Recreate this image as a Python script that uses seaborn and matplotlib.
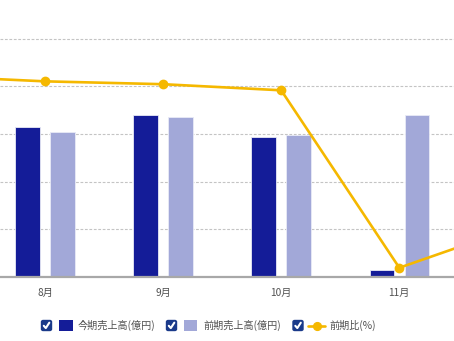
import matplotlib
matplotlib.use("Agg")
import matplotlib.pyplot as plt
import seaborn as sns
import pandas as pd
import numpy as np
from matplotlib.patches import Rectangle, FancyBboxPatch
from matplotlib.lines import Line2D

months = ["7月", "8月", "9月", "10月", "11月", "12月"]
current_sales = [np.nan, 157, 170, 147, 7, np.nan]   # 今期売上高(億円)
previous_sales = [np.nan, 152, 168, 149, 170, np.nan]  # 前期売上高(億円)
ratio = [105.5, 102.6, 101.1, 97.9, 4.7, 26.3]       # 前期比(%)

s1 = "今期売上高(億円)"
s2 = "前期売上高(億円)"
s3 = "前期比(%)"

DARK = "#141C98"
LIGHT = "#A2A8D8"
GOLD = "#F5B800"
TXT = "#505050"

sns.set_theme(style="white")
plt.rcParams["font.family"] = ["Noto Sans CJK JP", "DejaVu Sans"]

W, H = 454, 341
fig = plt.figure(figsize=(W / 100, H / 100), dpi=100)
base_px = 276.7
step_px = 47.6
ax = fig.add_axes([0, (H - base_px) / H, 1, base_px / H])

df = pd.DataFrame({
    "month": months * 2,
    "value": current_sales + previous_sales,
    "series": [s1] * len(months) + [s2] * len(months),
})
sns.barplot(data=df, x="month", y="value", hue="series", order=months,
            hue_order=[s1, s2], palette=[DARK, LIGHT], saturation=1,
            width=0.593, gap=0.30,
            edgecolor="#e8eaf6", linewidth=0.6, legend=False, ax=ax, zorder=2)

nsteps = base_px / step_px
ax.set_ylim(0, 50 * nsteps)
ax.set_yticks([50, 100, 150, 200, 250])
ax.yaxis.grid(True, color="#c4c4c4", linestyle=(0, (2.5, 1.5)), linewidth=0.8)
ax.set_axisbelow(True)
ax.tick_params(axis="y", left=False, labelleft=False)
ax.set_xlabel("")
ax.set_ylabel("")
for sp in ["top", "left", "right"]:
    ax.spines[sp].set_visible(False)
ax.spines["bottom"].set_color("#a8a8a8")
ax.spines["bottom"].set_linewidth(1.6)
ax.tick_params(axis="x", bottom=False, labelsize=7.3, labelcolor=TXT, pad=2)

ax2 = ax.twinx()
sns.pointplot(x=months, y=ratio, order=months, color=GOLD, ax=ax2,
              markers="o", markersize=5.6, linewidth=1.9, zorder=5)
ax2.set_ylim(0, 25 * nsteps)
ax2.set_yticks([])
for sp in ["top", "left", "right", "bottom"]:
    ax2.spines[sp].set_visible(False)

span = W / 118.1
xmin = 1 - 45 / 118.1
ax.set_xlim(xmin, xmin + span)
ax2.set_xlim(xmin, xmin + span)

# legend drawn manually
def px(x, y):
    return x / W, 1 - y / H

ly = 325.5

def checkbox(x0):
    bx, by = px(x0, ly + 5)
    fig.patches.append(FancyBboxPatch((bx, by), 10 / W, 10 / H,
                                      boxstyle="round,pad=0,rounding_size=0.004",
                                      transform=fig.transFigure, facecolor="#1a3a8a",
                                      edgecolor="#1a3a8a", figure=fig))
    xs = [x0 + 2.3, x0 + 4.3, x0 + 7.8]
    ys = [ly + 0.3, ly + 2.6, ly - 2.8]
    pts = [px(a, b) for a, b in zip(xs, ys)]
    fig.lines.append(Line2D([p[0] for p in pts], [p[1] for p in pts],
                            transform=fig.transFigure, color="white", linewidth=1.5,
                            solid_capstyle="round", solid_joinstyle="round", figure=fig))

def swatch(x0, color):
    bx, by = px(x0, ly + 5.5)
    fig.patches.append(Rectangle((bx, by), 13 / W, 11 / H, transform=fig.transFigure,
                                 facecolor=color, edgecolor="none", figure=fig))

checkbox(41.5)
swatch(59.5, DARK)
fig.text(*px(78, ly), s1, fontsize=7.3, color=TXT, va="center", ha="left")
checkbox(166.5)
swatch(184, LIGHT)
fig.text(*px(203, ly), s2, fontsize=7.3, color=TXT, va="center", ha="left")
checkbox(293)
p1, p2 = px(308, ly), px(325, ly)
fig.lines.append(Line2D([p1[0], p2[0]], [p1[1], p2[1]], transform=fig.transFigure,
                        color=GOLD, linewidth=1.9, figure=fig))
pm = px(316.5, ly)
fig.lines.append(Line2D([pm[0]], [pm[1]], transform=fig.transFigure, color=GOLD,
                        marker="o", markersize=5.6, linestyle="none", figure=fig))
fig.text(*px(329, ly), s3, fontsize=7.3, color=TXT, va="center", ha="left")

fig.savefig("out.png", dpi=100)
